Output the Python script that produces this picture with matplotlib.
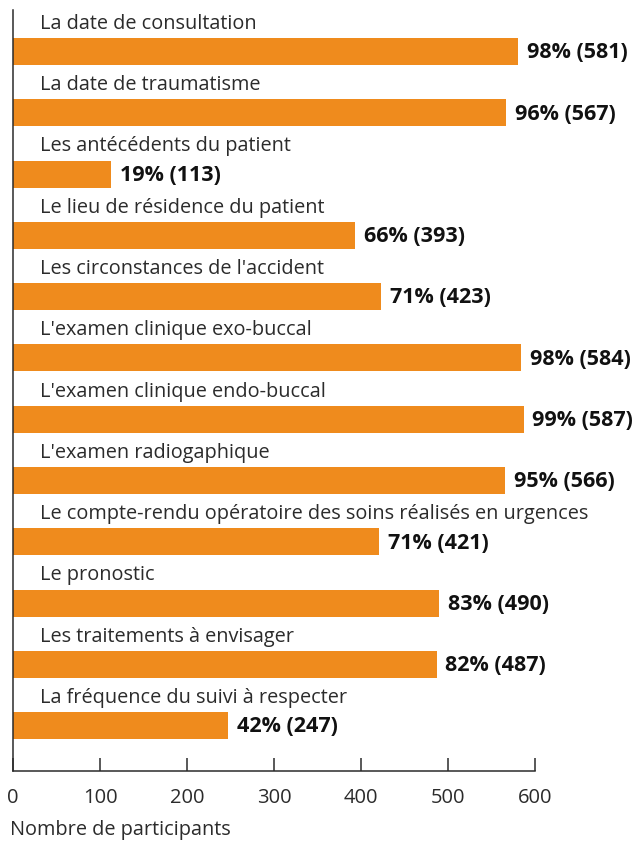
import matplotlib.pyplot as plt

categories = [
    "La date de consultation",
    "La date de traumatisme",
    "Les antécédents du patient",
    "Le lieu de résidence du patient",
    "Les circonstances de l'accident",
    "L'examen clinique exo-buccal",
    "L'examen clinique endo-buccal",
    "L'examen radiogaphique",
    "Le compte-rendu opératoire des soins réalisés en urgences",
    "Le pronostic",
    "Les traitements à envisager",
    "La fréquence du suivi à respecter",
]
counts = [581, 567, 113, 393, 423, 584, 587, 566, 421, 490, 487, 247]
percents = [98, 96, 19, 66, 71, 98, 99, 95, 71, 83, 82, 42]
xticks = [0, 100, 200, 300, 400, 500, 600]

bar_color = '#EF8B1D'
text_color = '#2b2b2b'

plt.rcParams['font.family'] = ['Open Sans', 'DejaVu Sans']

fig = plt.figure(figsize=(6.38, 8.41), dpi=100)
ax = fig.add_axes([13 / 638, 1 - 771 / 841, 522 / 638, 761 / 841])

y = list(range(len(categories)))
ax.barh(y, counts, height=0.44, color=bar_color, zorder=2)

for i, (cat, c, p) in enumerate(zip(categories, counts, percents)):
    ax.text(31, i - 0.45, cat, fontsize=14.3, color=text_color,
            va='center', ha='left')
    ax.text(c + 10, i + 0.02, f"{p}% ({c})", fontsize=15.5, color='#111111',
            va='center', ha='left', fontweight='bold')

ax.set_xlim(0, 600)
ax.set_ylim(11.74, -0.677)
ax.set_xticks(xticks)
ax.set_yticks([])
ax.tick_params(axis='x', direction='in', length=9.5, width=1.1,
               color=text_color, labelsize=14.5, labelcolor=text_color, pad=12)

ax.spines['top'].set_visible(False)
ax.spines['right'].set_visible(False)
ax.spines['left'].set_color(text_color)
ax.spines['bottom'].set_color(text_color)
ax.spines['left'].set_linewidth(1.1)
ax.spines['bottom'].set_linewidth(1.1)

fig.text(10 / 638, 1 - 830 / 841, "Nombre de participants", fontsize=14.3,
         color=text_color, va='center', ha='left')

fig.savefig('out.png', dpi=100)
